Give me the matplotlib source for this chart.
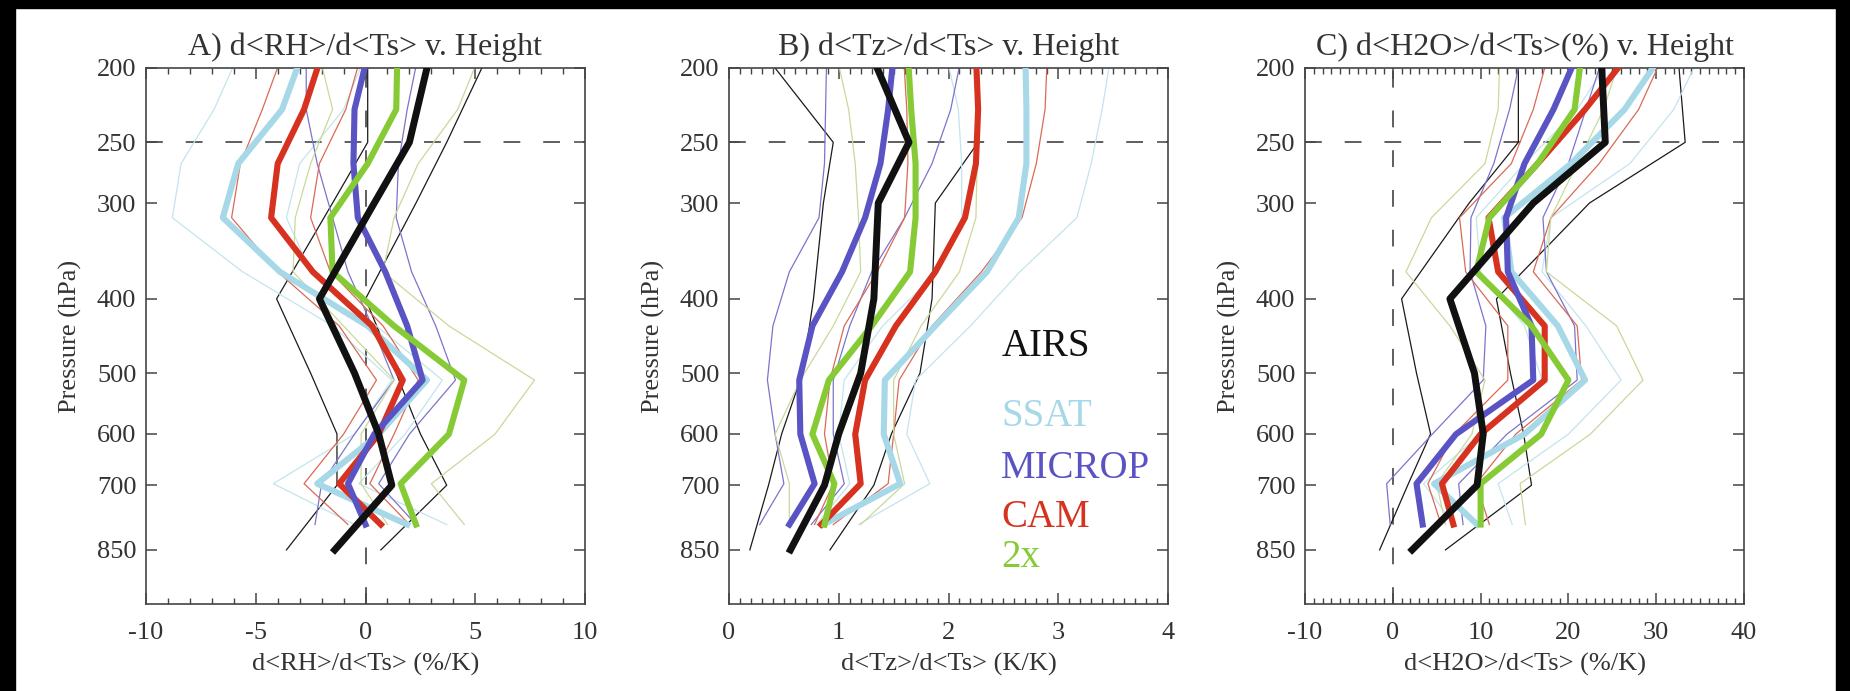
import numpy as np
import matplotlib
matplotlib.use("Agg")
import matplotlib.pyplot as plt
from matplotlib import font_manager
from matplotlib.patches import Rectangle
from matplotlib.ticker import FixedLocator, MultipleLocator, NullLocator

# Times-like serif for all text
serif_names = {f.name for f in font_manager.fontManager.ttflist}
SERIF = "Liberation Serif" if "Liberation Serif" in serif_names else "DejaVu Serif"
plt.rcParams["font.family"] = "serif"
plt.rcParams["font.serif"] = [SERIF, "DejaVu Serif"]

# pressure levels (hPa): AIRS retrieval levels and model mid-levels
P_AIRS = [200, 250, 300, 400, 500, 600, 700, 850]
P_MODEL = [192.5, 226.5, 266.5, 313.5, 368.8, 433.9, 510.5, 600.5, 696.8, 787.7]

P_TICKS = [200, 250, 300, 400, 500, 600, 700, 850]

# A) d<RH>/d<Ts>  (%/K)
RH_AIRS = [2.8, 2.0, 0.4, -2.1, -0.5, 0.6, 1.2, -1.4]
RH_AIRS_LO = [0.1, 0.1, -1.5, -4.05, -2.5, -1.3, -1.3, -3.6]
RH_AIRS_HI = [5.3, 3.7, 2.3, 0.0, 1.4, 2.5, 3.7, 0.7]
RH_SSAT = [-2.9, -3.8, -5.8, -6.5, -3.9, 0.1, 2.8, 0.6, -2.2, 1.9]
RH_SSAT_LO = [-5.8, -6.9, -8.4, -8.8, -5.6, -1.5, 1.2, -0.5, -4.2, -0.5]
RH_SSAT_HI = [0.0, -1.0, -3.0, -3.6, -2.5, 0.5, 3.5, 1.8, -0.3, 3.7]
RH_MICROP = [0.1, -0.5, -0.55, -0.35, 0.9, 1.9, 2.6, 0.4, -0.8, 0.0]
RH_MICROP_LO = [-2.7, -2.7, -2.2, -1.5, -0.8, 0.3, 1.3, -0.5, -2.0, -2.3]
RH_MICROP_HI = [2.4, 1.9, 1.5, 1.4, 2.1, 3.2, 4.1, 2.0, 0.6, 2.3]
RH_CAM = [-2.0, -2.8, -4.0, -4.3, -2.4, 0.3, 1.7, 0.6, -1.2, 0.7]
RH_CAM_LO = [-3.8, -4.7, -5.7, -6.1, -4.0, -1.2, 0.5, -1.0, -2.8, -0.8]
RH_CAM_HI = [-0.2, -0.9, -2.1, -2.5, -1.6, 0.8, 2.4, 1.3, 0.2, 2.0]
RH_2X = [1.45, 1.4, 0.1, -1.6, -1.5, 1.3, 4.5, 3.8, 1.6, 2.3]
RH_2X_LO = [-2.1, -1.5, -2.5, -3.2, -3.3, -1.0, 1.3, -0.2, -0.2, 1.0]
RH_2X_HI = [5.2, 4.2, 2.4, 1.3, 0.8, 3.8, 7.7, 5.9, 3.0, 4.5]

# B) d<Tz>/d<Ts>  (K/K)
TZ_AIRS = [1.35, 1.64, 1.36, 1.32, 1.2, 1.0, 0.87, 0.56]
TZ_AIRS_LO = [0.42, 0.95, 0.86, 0.77, 0.67, 0.48, 0.36, 0.19]
TZ_AIRS_HI = [2.25, 2.27, 1.88, 1.85, 1.74, 1.48, 1.32, 0.92]
TZ_SSAT = [2.7, 2.71, 2.71, 2.64, 2.35, 1.88, 1.42, 1.41, 1.56, 0.86]
TZ_SSAT_LO = [1.98, 2.09, 2.12, 2.12, 1.9, 1.4, 1.05, 1.0, 1.1, 0.8]
TZ_SSAT_HI = [3.48, 3.4, 3.3, 3.17, 2.65, 2.2, 1.7, 1.62, 1.83, 1.18]
TZ_MICROP = [1.5, 1.45, 1.38, 1.24, 1.03, 0.76, 0.64, 0.65, 0.78, 0.55]
TZ_MICROP_LO = [0.89, 0.88, 0.87, 0.82, 0.55, 0.4, 0.35, 0.42, 0.5, 0.28]
TZ_MICROP_HI = [2.12, 2.02, 1.85, 1.6, 1.3, 1.1, 0.95, 0.95, 1.05, 0.75]
TZ_CAM = [2.25, 2.27, 2.25, 2.15, 1.88, 1.52, 1.24, 1.15, 1.2, 0.84]
TZ_CAM_LO = [1.59, 1.62, 1.63, 1.6, 1.35, 1.05, 0.92, 0.87, 0.95, 0.78]
TZ_CAM_HI = [2.9, 2.88, 2.8, 2.67, 2.3, 1.85, 1.55, 1.5, 1.45, 0.95]
TZ_2X = [1.63, 1.66, 1.7, 1.7, 1.65, 1.3, 0.91, 0.76, 0.96, 0.87]
TZ_2X_LO = [0.98, 1.09, 1.15, 1.18, 1.2, 0.95, 0.65, 0.42, 0.55, 0.55]
TZ_2X_HI = [2.24, 2.25, 2.26, 2.25, 2.1, 1.75, 1.5, 1.5, 1.6, 1.2]

# C) d<H2O>/d<Ts>  (%/K)
WV_AIRS = [23.8, 24.2, 16.0, 6.5, 9.3, 10.3, 9.6, 2.2]
WV_AIRS_LO = [14.3, 14.3, 8.7, 1.0, 2.7, 4.3, 1.7, -1.5]
WV_AIRS_HI = [32.6, 33.3, 22.4, 11.8, 13.4, 14.9, 15.8, 6.0]
WV_SSAT = [30.6, 26.4, 20.3, 12.7, 13.5, 18.8, 21.9, 15.0, 4.7, 9.6]
WV_SSAT_LO = [25, 21, 15, 9.5, 10, 15, 17, 10, 3.5, 7]
WV_SSAT_HI = [35, 32, 27, 18, 17, 22, 26, 20, 12, 13.6]
WV_MICROP = [21.0, 18.3, 15.0, 12.9, 13.1, 15.8, 16.0, 7.2, 2.7, 3.4]
WV_MICROP_LO = [14.6, 13.3, 11.5, 8.9, 8.8, 10.6, 10.3, 4.5, -0.7, -0.3]
WV_MICROP_HI = [24, 22, 20, 17.1, 17.5, 20.7, 21, 13, 7.5, 8]
WV_CAM = [26.8, 21.9, 16.5, 10.9, 12.0, 17.3, 17.3, 10.0, 5.6, 6.9]
WV_CAM_LO = [17.7, 16, 13.5, 7.6, 8.3, 13.1, 13.1, 7, 4, 5.5]
WV_CAM_HI = [30.8, 28, 23.5, 18, 16, 21, 21.5, 14, 9.5, 11]
WV_2X = [21.5, 20.7, 16.5, 11.0, 9.5, 15.8, 20.0, 16.9, 10.0, 10.0]
WV_2X_LO = [12.2, 12.0, 10.5, 4.4, 1.5, 6.5, 10.5, 9, 5, 6]
WV_2X_HI = [26, 24, 21, 18, 17.5, 25.5, 28.5, 22.5, 14.5, 15.1]

NAMES = ["AIRS", "SSAT", "MICROP", "CAM", "2x"]
THICK_COLORS = {"AIRS": "#111111", "SSAT": "#a6d8e8", "MICROP": "#5a53c4",
                "CAM": "#d6321f", "2x": "#86cb35"}
THIN_COLORS = {"AIRS": "#1a1a1a", "SSAT": "#c4e4ee", "MICROP": "#7c74cc",
               "CAM": "#d96a55", "2x": "#c9d99a"}
TEXT_COLOR = "#333333"

PANELS = [
    dict(title="A) d<RH>/d<Ts> v. Height", xlabel="d<RH>/d<Ts> (%/K)",
         xlim=(-10, 10), xticks=[-10, -5, 0, 5, 10], minor=1, zero=True,
         data={"AIRS": (RH_AIRS, RH_AIRS_LO, RH_AIRS_HI),
               "SSAT": (RH_SSAT, RH_SSAT_LO, RH_SSAT_HI),
               "MICROP": (RH_MICROP, RH_MICROP_LO, RH_MICROP_HI),
               "CAM": (RH_CAM, RH_CAM_LO, RH_CAM_HI),
               "2x": (RH_2X, RH_2X_LO, RH_2X_HI)}),
    dict(title="B) d<Tz>/d<Ts> v. Height", xlabel="d<Tz>/d<Ts> (K/K)",
         xlim=(0, 4), xticks=[0, 1, 2, 3, 4], minor=0.1, zero=False,
         data={"AIRS": (TZ_AIRS, TZ_AIRS_LO, TZ_AIRS_HI),
               "SSAT": (TZ_SSAT, TZ_SSAT_LO, TZ_SSAT_HI),
               "MICROP": (TZ_MICROP, TZ_MICROP_LO, TZ_MICROP_HI),
               "CAM": (TZ_CAM, TZ_CAM_LO, TZ_CAM_HI),
               "2x": (TZ_2X, TZ_2X_LO, TZ_2X_HI)}),
    dict(title="C) d<H2O>/d<Ts>(%) v. Height", xlabel="d<H2O>/d<Ts> (%/K)",
         xlim=(-10, 40), xticks=[-10, 0, 10, 20, 30, 40], minor=1, zero=True,
         data={"AIRS": (WV_AIRS, WV_AIRS_LO, WV_AIRS_HI),
               "SSAT": (WV_SSAT, WV_SSAT_LO, WV_SSAT_HI),
               "MICROP": (WV_MICROP, WV_MICROP_LO, WV_MICROP_HI),
               "CAM": (WV_CAM, WV_CAM_LO, WV_CAM_HI),
               "2x": (WV_2X, WV_2X_LO, WV_2X_HI)}),
]

W, H = 1850, 691
fig = plt.figure(figsize=(W / 100, H / 100), dpi=100)
fig.patch.set_facecolor("white")

AX_LEFT = [146, 729, 1305]
AX_W, AX_TOP, AX_BOT = 439, 68, 604

for left, panel in zip(AX_LEFT, PANELS):
    ax = fig.add_axes([left / W, 1 - AX_BOT / H, AX_W / W, (AX_BOT - AX_TOP) / H])

    # spread lines first, then the mean profiles on top
    for name in NAMES:
        mid, lo, hi = panel["data"][name]
        lev = P_AIRS if name == "AIRS" else P_MODEL
        for bound in (lo, hi):
            ax.plot(bound, lev, color=THIN_COLORS[name], lw=0.9, zorder=2)
    for name in ["SSAT", "CAM", "MICROP", "2x", "AIRS"]:
        mid = panel["data"][name][0]
        lev = P_AIRS if name == "AIRS" else P_MODEL
        ax.plot(mid, lev, color=THICK_COLORS[name],
                lw=5.0 if name == "AIRS" else 4.4, zorder=3)

    ax.axhline(250, color="#333333", lw=1.1, dashes=(11, 15), zorder=1)
    if panel["zero"]:
        ax.axvline(0, color="#333333", lw=1.1, dashes=(11, 15), zorder=1)

    ax.set_yscale("log")
    ax.set_ylim(1000, 200)
    ax.yaxis.set_major_locator(FixedLocator(P_TICKS))
    ax.yaxis.set_minor_locator(NullLocator())
    ax.set_yticklabels([str(p) for p in P_TICKS])

    ax.set_xlim(*panel["xlim"])
    ax.xaxis.set_major_locator(FixedLocator(panel["xticks"]))
    ax.xaxis.set_minor_locator(MultipleLocator(panel["minor"]))
    ax.set_xticklabels([str(t) for t in panel["xticks"]])

    ax.tick_params(which="both", direction="in", top=True, right=True,
                   colors="#444444", labelcolor=TEXT_COLOR, labelsize=19)
    ax.tick_params(which="major", length=8, width=1.1)
    ax.tick_params(which="minor", length=4, width=1.0)
    ax.tick_params(axis="x", pad=13)
    ax.tick_params(axis="y", pad=7)
    for sp in ax.spines.values():
        sp.set_color("#444444")
        sp.set_linewidth(1.2)

    ax.set_title(panel["title"], fontsize=23, color=TEXT_COLOR, pad=9)
    ax.set_xlabel(panel["xlabel"], fontsize=19, color=TEXT_COLOR, va="center")
    ax.xaxis.set_label_coords(0.5, -0.112)
    ax.set_ylabel("Pressure (hPa)", fontsize=19, color=TEXT_COLOR, va="center")
    ax.yaxis.set_label_coords(-0.171, 0.5)

    if panel["title"].startswith("B"):
        legend_y = [0.48, 0.349, 0.253, 0.162, 0.086]
        for name, yy in zip(NAMES, legend_y):
            ax.text(0.62, yy, name, transform=ax.transAxes, fontsize=28,
                    color=THICK_COLORS[name], va="center", ha="left")

# dark frame around the scan
fig.patches.append(Rectangle((0, 1 - 8 / H), 1, 8 / H, transform=fig.transFigure,
                             color="black", zorder=10))
fig.patches.append(Rectangle((0, 0), 15 / W, 1, transform=fig.transFigure,
                             color="black", zorder=10))
fig.patches.append(Rectangle((1 - 14 / W, 0), 14 / W, 1, transform=fig.transFigure,
                             color="black", zorder=10))

fig.savefig("out.png", dpi=100, facecolor="white")
